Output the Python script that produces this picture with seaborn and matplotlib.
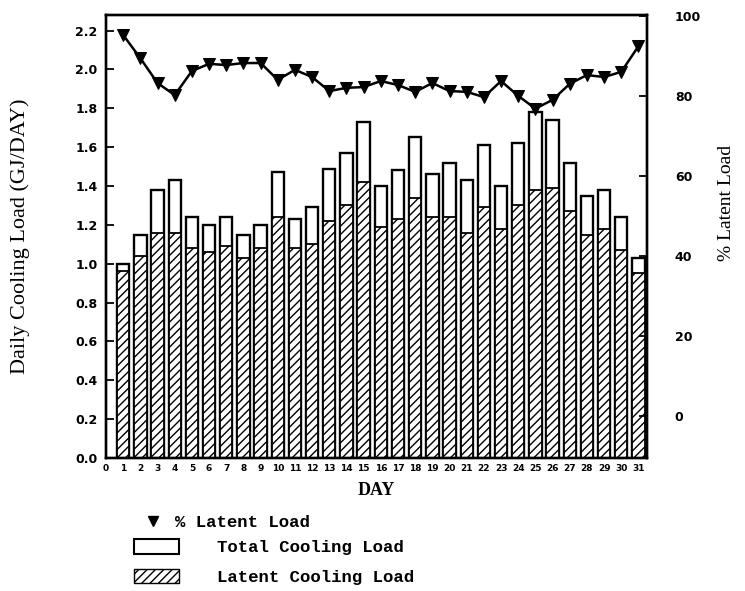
import numpy as np
import pandas as pd
import matplotlib
matplotlib.use("Agg")
import matplotlib.pyplot as plt
from matplotlib.lines import Line2D
from matplotlib.patches import Patch
import seaborn as sns

days = list(range(1, 32))
total_load = [1.00, 1.15, 1.38, 1.43, 1.24, 1.20, 1.24, 1.15, 1.20, 1.47,
              1.23, 1.29, 1.49, 1.57, 1.73, 1.40, 1.48, 1.65, 1.46, 1.52,
              1.43, 1.61, 1.40, 1.62, 1.78, 1.74, 1.52, 1.35, 1.38, 1.24, 1.03]
latent_load = [0.96, 1.04, 1.16, 1.16, 1.08, 1.06, 1.09, 1.03, 1.08, 1.24,
               1.08, 1.10, 1.22, 1.30, 1.42, 1.19, 1.23, 1.34, 1.24, 1.24,
               1.16, 1.29, 1.18, 1.30, 1.38, 1.39, 1.27, 1.15, 1.18, 1.07, 0.95]
pct_latent = [95.2, 89.4, 83.2, 80.2, 86.2, 88.0, 87.7, 88.2, 88.2, 84.0,
              86.5, 84.7, 81.2, 82.0, 82.2, 83.7, 82.7, 81.0, 83.2, 81.2,
              81.0, 79.7, 83.7, 80.0, 76.8, 79.0, 83.0, 85.2, 84.7, 86.0, 92.4]
x_ticks = list(range(0, 32))
left_ticks = [0.0, 0.2, 0.4, 0.6, 0.8, 1.0, 1.2, 1.4, 1.6, 1.8, 2.0, 2.2]
right_ticks = [0, 20, 40, 60, 80, 100]

df = pd.DataFrame({"day": days, "total": total_load,
                   "latent": latent_load, "pct": pct_latent})

sns.set_theme(style="white")
plt.rcParams["font.family"] = ["DejaVu Sans"]

fig = plt.figure(figsize=(7.45, 5.91), dpi=100)
ax = fig.add_axes([0.1423, 0.225, 0.7262, 0.7496])

sns.barplot(data=df, x="day", y="total", native_scale=True, width=0.72,
            color="white", edgecolor="black", linewidth=1.7, errorbar=None,
            saturation=1, ax=ax)
sns.barplot(data=df, x="day", y="latent", native_scale=True, width=0.72,
            color="white", edgecolor="black", linewidth=1.3, errorbar=None,
            saturation=1, hatch="////", ax=ax)

ax.set_xlim(0, 31.5)
ax.set_ylim(0, 2.28)
ax.set_xticks(x_ticks)
ax.set_xticklabels([str(t) for t in x_ticks], fontsize=6.5, fontweight="bold")
ax.set_yticks(left_ticks)
ax.set_yticklabels([f"{t:.1f}" for t in left_ticks], fontsize=9, fontweight="bold")
ax.tick_params(axis="y", direction="in", length=6, width=1.3, pad=6, left=True,
               color="black", labelcolor="black")
ax.tick_params(axis="x", direction="in", length=0, pad=4, bottom=True,
               labelcolor="black")
for s in ax.spines.values():
    s.set_visible(True)
    s.set_color("black")
    s.set_linewidth(1.7)
ax.set_xlabel("DAY", fontsize=13, fontweight="bold", family="Liberation Serif",
              labelpad=7, color="black")
ax.set_ylabel("Daily Cooling Load (GJ/DAY)", fontsize=16, family="Liberation Serif",
              color="black")
ax.yaxis.set_label_coords(-0.14, 0.5)
ax.grid(False)

ax2 = ax.twinx()
sns.lineplot(data=df, x="day", y="pct", color="black", linewidth=1.8,
             marker="v", markersize=8, markeredgecolor="black", ax=ax2)
ax2.set_ylim(-10.5, 100.2)
ax2.set_yticks(right_ticks)
ax2.set_yticklabels([str(t) for t in right_ticks], fontsize=9, fontweight="bold")
ax2.tick_params(axis="y", direction="in", length=6, width=1.3, pad=20, right=True,
                color="black", labelcolor="black")
ax2.set_ylabel("% Latent Load", fontsize=14, family="Liberation Serif", color="black")
ax2.yaxis.set_label_coords(1.132, 0.575)
ax2.set_xlabel("")
ax2.grid(False)
for s in ax2.spines.values():
    s.set_linewidth(1.7)
    s.set_color("black")

legfont = {"family": "Liberation Mono", "size": 12.5, "weight": "bold"}
h1 = [Line2D([], [], marker="v", color="black", linestyle="none", markersize=7)]
leg1 = fig.legend(h1, ["% Latent Load"], loc="center left",
                  bbox_to_anchor=(144 / 745, 1 - 522 / 591), frameon=False,
                  prop=legfont, handlelength=1.0, handletextpad=0.8, borderpad=0,
                  borderaxespad=0)
h2 = [Patch(facecolor="white", edgecolor="black", linewidth=1.5),
      Patch(facecolor="white", edgecolor="black", linewidth=1.0, hatch="////")]
leg2 = fig.legend(h2, ["Total Cooling Load", "Latent Cooling Load"], loc="center left",
                  bbox_to_anchor=(134 / 745, 1 - 562 / 591), frameon=False,
                  prop=legfont, handlelength=2.6, handleheight=0.95,
                  handletextpad=2.2, labelspacing=0.75, borderpad=0, borderaxespad=0)
for leg in (leg1, leg2):
    for t in leg.get_texts():
        t.set_color("black")

fig.savefig("out.png", dpi=100)
